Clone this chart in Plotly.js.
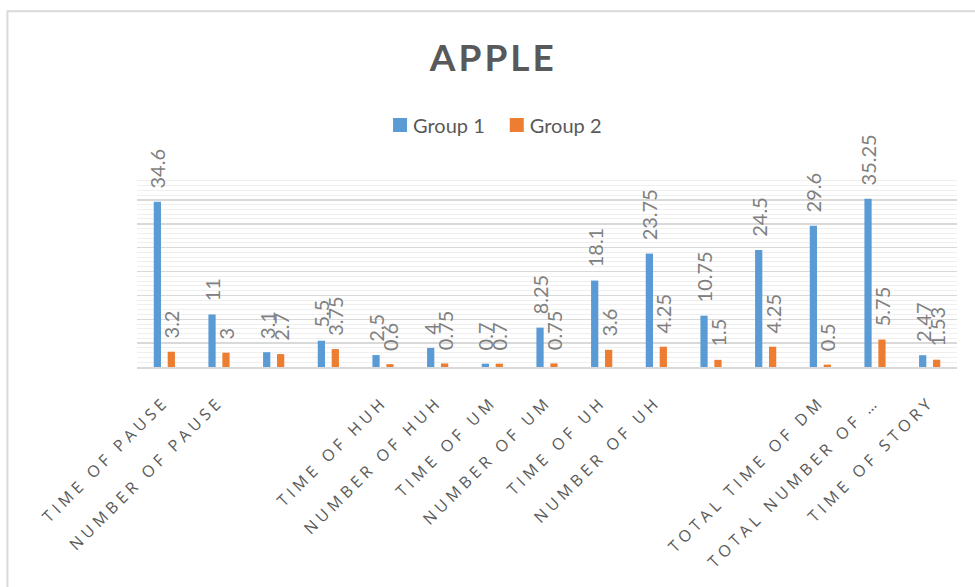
<!DOCTYPE html>
<html>
<head>
<meta charset="utf-8">
<script src="https://cdn.plot.ly/plotly-3.0.1.min.js"></script>
<style>
  html, body { margin: 0; padding: 0; background: #fff; }
  #chart { width: 975px; height: 587px; }
  .xtick text { letter-spacing: 4.3px; }
  .gtitle { letter-spacing: 3px; }
</style>
</head>
<body>
<div id="chart"></div>
<script>
const categories = [
  "TIME OF PAUSE", "NUMBER OF PAUSE", "", "", "TIME OF HUH", "NUMBER OF HUH",
  "TIME OF UM", "NUMBER OF UM", "TIME OF UH", "NUMBER OF UH", "", "",
  "TOTAL TIME OF DM", "TOTAL NUMBER OF \u2026", "TIME OF STORY"
];
const group1 = [34.6, 11, 3.1, 5.5, 2.5, 4, 0.7, 8.25, 18.1, 23.75, 10.75, 24.5, 29.6, 35.25, 2.47];
const group2 = [3.2, 3, 2.7, 3.75, 0.6, 0.75, 0.7, 0.75, 3.6, 4.25, 1.5, 4.25, 0.5, 5.75, 1.53];
const seriesNames = ["Group 1", "Group 2"];
const chartTitle = "APPLE";

const xIdx = categories.map((c, i) => i);
const labelFont = { family: "Lato, 'Open Sans', sans-serif", size: 20, color: "#7f7f7f" };

function barTrace(name, values, color) {
  return {
    type: "bar",
    name: name,
    x: xIdx,
    y: values,
    marker: { color: color },
    texttemplate: "\u00a0\u00a0%{y}",
    textposition: "outside",
    textangle: -90,
    constraintext: "none",
    cliponaxis: false,
    textfont: labelFont,
    hoverinfo: "skip"
  };
}

const data = [
  barTrace(seriesNames[0], group1, "#5b9bd5"),
  barTrace(seriesNames[1], group2, "#ed7d31")
];

const layout = {
  width: 975,
  height: 587,
  paper_bgcolor: "#ffffff",
  plot_bgcolor: "#ffffff",
  margin: { l: 137, r: 18, t: 176, b: 220 },
  barmode: "group",
  bargap: 0.49,
  bargroupgap: 0.48,
  showlegend: true,
  title: {
    text: "<b>" + chartTitle + "</b>",
    font: { family: "Lato, 'Open Sans', sans-serif", size: 37, color: "#595959" },
    xref: "container", x: 0.506, xanchor: "center",
    yref: "container", y: 0.901, yanchor: "middle"
  },
  legend: {
    orientation: "h",
    xref: "container", x: 0.3826, xanchor: "left",
    yref: "container", y: 0.787, yanchor: "middle",
    font: { family: "Lato, 'Open Sans', sans-serif", size: 20, color: "#595959" },
    itemwidth: 30,
    bgcolor: "rgba(0,0,0,0)"
  },
  xaxis: {
    type: "linear",
    range: [-0.5, categories.length - 0.5],
    tickmode: "array",
    tickvals: xIdx,
    ticktext: categories,
    tickangle: -45,
    ticks: "outside",
    ticklen: 17,
    tickcolor: "rgba(0,0,0,0)",
    tickfont: { family: "'Open Sans', sans-serif", size: 16, color: "#595959" },
    showline: true,
    linecolor: "#d9d9d9",
    linewidth: 2,
    showgrid: false,
    zeroline: false,
    automargin: false,
    fixedrange: true
  },
  yaxis: {
    range: [0, 40],
    dtick: 5,
    showticklabels: false,
    showgrid: true,
    gridcolor: "#d9d9d9",
    gridwidth: 1.5,
    minor: { dtick: 1, showgrid: true, gridcolor: "#efefef", gridwidth: 1 },
    zeroline: false,
    showline: false,
    automargin: false,
    fixedrange: true
  },
  shapes: [{
    type: "rect",
    xref: "paper", yref: "paper",
    x0: -0.158, x1: 1.05, y0: -1.3, y1: 1.862,
    line: { color: "#d9d9d9", width: 2 },
    fillcolor: "rgba(0,0,0,0)",
    layer: "below"
  }]
};

Plotly.newPlot("chart", data, layout, { displayModeBar: false, staticPlot: true }).then(function (gd) {
  // square 14px swatches placed close to their text, as in the original legend
  gd.querySelectorAll("g.legendpoints path").forEach(function (p) {
    p.setAttribute("d", "M7,7H-7V-7H7Z");
    p.setAttribute("transform", "translate(27,0)");
  });
});
</script>
</body>
</html>
